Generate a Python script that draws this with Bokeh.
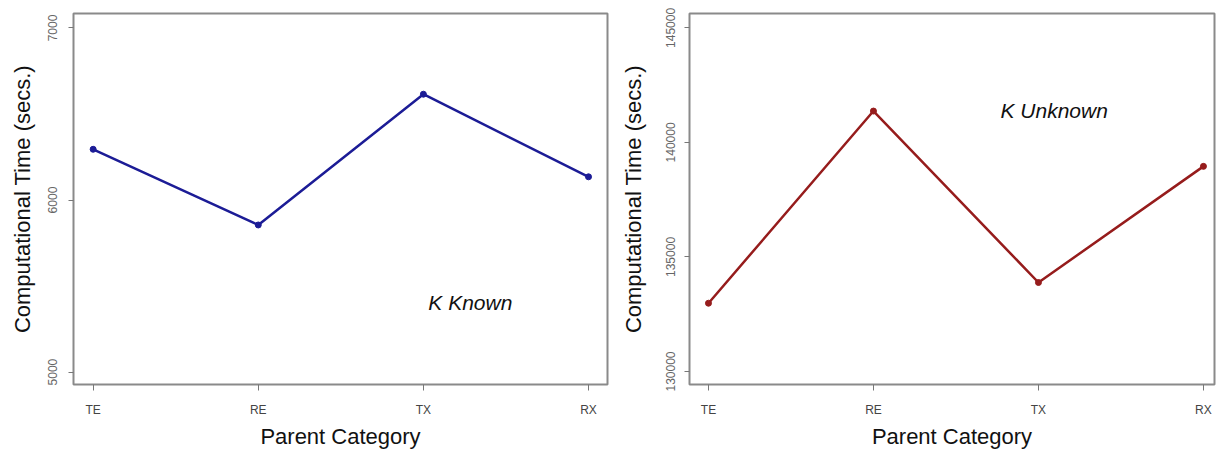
from bokeh.plotting import figure
from bokeh.layouts import row
from bokeh.models import Range1d, FixedTicker, NumeralTickFormatter, Label
from bokeh.embed import file_html
from bokeh.resources import INLINE

categories = ["TE", "RE", "TX", "RX"]
known_times = [6295, 5855, 6615, 6135]
unknown_times = [132980, 141370, 133885, 138955]
known_ticks = [5000, 6000, 7000]
unknown_ticks = [130000, 135000, 140000, 145000]

x_idx = list(range(len(categories)))
FONT = "Liberation Sans"


def make_plot(ys, yticks, yrange, xrange, color, left_border, right_border,
              label_standoff, tick_standoff, note, note_x, note_y):
    p = figure(width=609, height=451, output_backend="svg", toolbar_location=None,
               x_range=Range1d(*xrange), y_range=Range1d(*yrange),
               min_border_left=left_border, min_border_right=right_border,
               min_border_top=13, min_border_bottom=67)
    p.background_fill_color = "white"
    p.border_fill_color = "white"
    p.outline_line_color = "#8a8a8a"
    p.outline_line_width = 2
    p.xgrid.visible = False
    p.ygrid.visible = False

    p.line(x_idx, ys, line_color=color, line_width=2.5)
    p.scatter(x_idx, ys, size=6, fill_color=color, line_color=color)

    xa = p.xaxis[0]
    xa.ticker = FixedTicker(ticks=x_idx)
    xa.major_label_overrides = {i: c for i, c in enumerate(categories)}
    xa.axis_line_color = None
    xa.major_tick_out = 6
    xa.major_tick_in = 0
    xa.major_tick_line_color = "#777777"
    xa.minor_tick_line_color = None
    xa.major_label_standoff = 12
    xa.major_label_text_font = FONT
    xa.major_label_text_font_size = "12px"
    xa.major_label_text_color = "#444444"
    xa.axis_label = "Parent Category"
    xa.axis_label_text_font = FONT
    xa.axis_label_text_font_style = "normal"
    xa.axis_label_text_font_size = "22px"
    xa.axis_label_text_color = "#111111"
    xa.axis_label_standoff = 4

    ya = p.yaxis[0]
    ya.ticker = FixedTicker(ticks=yticks)
    ya.formatter = NumeralTickFormatter(format="0")
    ya.axis_line_color = None
    ya.major_tick_out = 5
    ya.major_tick_in = 0
    ya.major_tick_line_color = "#777777"
    ya.minor_tick_line_color = None
    ya.major_label_orientation = "vertical"
    ya.major_label_standoff = tick_standoff
    ya.major_label_text_font = FONT
    ya.major_label_text_font_size = "12px"
    ya.major_label_text_color = "#666666"
    ya.axis_label = "Computational Time (secs.)"
    ya.axis_label_text_font = FONT
    ya.axis_label_text_font_style = "normal"
    ya.axis_label_text_font_size = "22px"
    ya.axis_label_text_color = "#111111"
    ya.axis_label_standoff = label_standoff

    p.add_layout(Label(x=note_x, y=note_y, text=note, text_font=FONT,
                       text_font_style="italic", text_font_size="21px",
                       text_color="#111111", text_baseline="middle"))
    return p


p1 = make_plot(known_times, known_ticks, (4928, 7084), (-0.119, 3.115),
               "#1c1c96", 73, 2, 11, 11, "K Known", 2.03, 5405)
p2 = make_plot(unknown_times, unknown_ticks, (129432, 145629), (-0.115, 3.067),
               "#961c1c", 80, 4, 18, 9, "K Unknown", 1.77, 141400)

layout = row(p1, p2)
open("out.html", "w").write(file_html(layout, INLINE))
